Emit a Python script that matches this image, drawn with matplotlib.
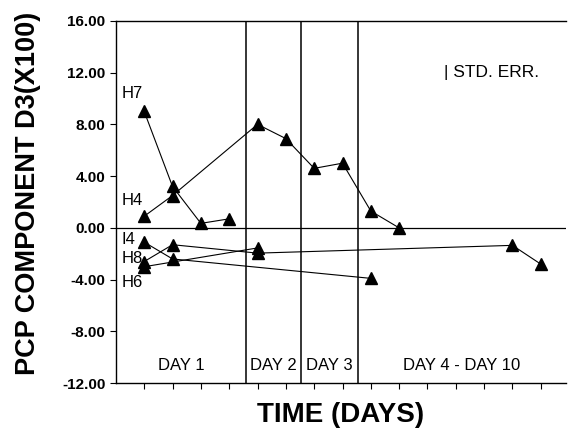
import matplotlib
matplotlib.use("Agg")
import matplotlib.pyplot as plt

plt.rcParams['font.family'] = ['Liberation Sans', 'DejaVu Sans']

# sample positions (tick index) and values for each subject
h7_x = [1, 2, 3, 4]
h7_y = [9.0, 3.2, 0.35, 0.7]

h4_x = [1, 2, 5, 6, 7, 8, 9, 10]
h4_y = [0.9, 2.5, 8.0, 6.9, 4.6, 5.0, 1.3, 0.0]

i4_x = [1, 2, 9]
i4_y = [-1.1, -2.4, -3.9]

h8_x = [1, 2, 5, 14, 15]
h8_y = [-2.6, -1.3, -1.95, -1.35, -2.8]

h6_x = [1, 5]
h6_y = [-3.0, -1.55]

series = [(h7_x, h7_y), (h4_x, h4_y), (i4_x, i4_y), (h8_x, h8_y), (h6_x, h6_y)]

# series name labels next to the first points
names = ['H7', 'H4', 'I4', 'H8', 'H6']
name_y = [10.4, 2.1, -0.9, -2.4, -4.2]

# day boundaries and labels
day_lines = [4.6, 6.55, 8.55]
day_labels = ['DAY 1', 'DAY 2', 'DAY 3', 'DAY 4 - DAY 10']
day_pos = [2.3, 5.55, 7.55, 12.2]

yticks = [-12, -8, -4, 0, 4, 8, 12, 16]
xticks = list(range(1, 16))

fig = plt.figure(figsize=(5.68, 4.43), dpi=100)
ax = fig.add_axes([0.204, 0.135, 0.793, 0.818])

for xs, ys in series:
    ax.plot(xs, ys, color='black', lw=0.8, marker='^', ms=9, mec='black', mfc='black')

ax.axhline(0, color='black', lw=0.9)
for xv in day_lines:
    ax.axvline(xv, color='black', lw=1.1)

for n, yv in zip(names, name_y):
    ax.text(0.2, yv, n, fontsize=12, ha='left', va='center')

for lab, xp in zip(day_labels, day_pos):
    ax.text(xp, -10.6, lab, fontsize=12, ha='center', va='center')

ax.text(11.6, 12.0, '| STD. ERR.', fontsize=12.5, ha='left', va='center')

ax.set_xlim(0, 15.9)
ax.set_ylim(-12, 16)
ax.set_yticks(yticks)
ax.set_yticklabels(['%.2f' % v for v in yticks], fontsize=11, fontweight='bold')
ax.set_xticks(xticks)
ax.set_xticklabels([])
ax.tick_params(direction='out', length=4, width=0.8)
ax.spines['right'].set_visible(False)
for s in ['left', 'top', 'bottom']:
    ax.spines[s].set_linewidth(1.0)

fig.text(0.05, 0.563, 'PCP COMPONENT D3(X100)', rotation=90, fontsize=19.5,
         fontweight='bold', ha='center', va='center')
fig.text(0.6, 0.063, 'TIME (DAYS)', fontsize=20, fontweight='bold',
         ha='center', va='center')

fig.savefig('out.png', dpi=100)
